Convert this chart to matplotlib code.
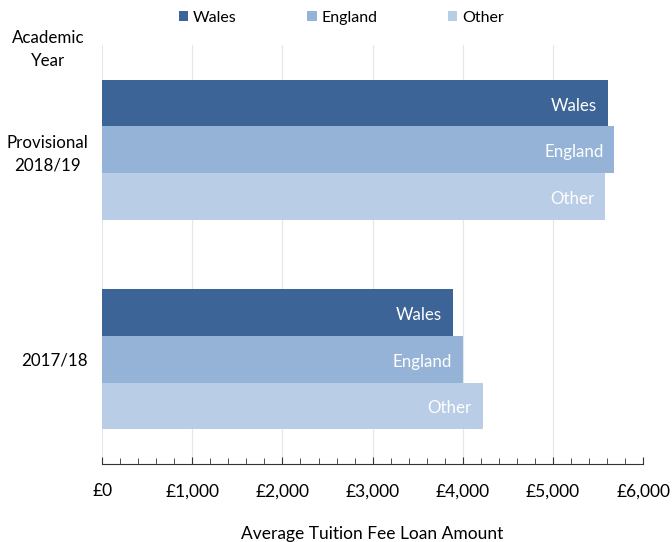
import numpy as np
import matplotlib.pyplot as plt
from matplotlib.ticker import MultipleLocator, FuncFormatter

plt.rcParams['font.family'] = ['Lato', 'DejaVu Sans']

years = ['2017/18', 'Provisional\n2018/19']
domiciles = ['Wales', 'England', 'Other']
wales = [3890, 5610]
england = [4000, 5680]
other = [4220, 5580]
colours = ['#3C6496', '#95B3D7', '#BACDE6']

fig = plt.figure(figsize=(6.72, 5.42), dpi=100)
ax = fig.add_axes([0.152, 0.144, 0.805, 0.773])

y = np.arange(len(years))
h = 0.223
offsets = [h, 0, -h]

for series, name, col, off in zip([wales, england, other], domiciles, colours, offsets):
    bars = ax.barh(y + off, series, height=h, color=col, label=name, zorder=2)
    for b in bars:
        ax.text(b.get_width() - 120, b.get_y() + b.get_height() / 2 - 0.012, name,
                ha='right', va='center', color='white', fontsize=12.2, zorder=3)

ax.set_xlim(0, 6000)
ax.set_ylim(-0.5, 1.5)
ax.set_yticks(y)
ax.set_yticklabels(years, fontsize=12.2, ha='right', multialignment='center',
                   linespacing=1.45)
ax.tick_params(axis='y', length=0, pad=10)

ax.xaxis.set_major_locator(MultipleLocator(1000))
ax.xaxis.set_minor_locator(MultipleLocator(200))
ax.xaxis.set_major_formatter(FuncFormatter(lambda v, p: f'£{v:,.0f}'))
ax.tick_params(axis='x', which='both', direction='in', labelsize=12.5, pad=14, color='#333333')
ax.tick_params(axis='x', which='major', length=5)
ax.tick_params(axis='x', which='minor', length=4)
ax.grid(axis='x', color='#E6E6E6', linewidth=0.8, zorder=0)

for s in ['top', 'right', 'left']:
    ax.spines[s].set_visible(False)
ax.spines['bottom'].set_color('#333333')

ax.set_xlabel('Average Tuition Fee Loan Amount', fontsize=12.5, labelpad=19)
fig.text(0.072, 0.908, 'Academic\nYear', ha='center', va='center', fontsize=12.2,
         linespacing=1.55)

ax.legend(loc='center', bbox_to_anchor=((0.508 - 0.152) / 0.805, (0.967 - 0.144) / 0.773),
          ncol=3, frameon=False, fontsize=11.5, handlelength=0.6, handleheight=0.6,
          handletextpad=0.3, columnspacing=4.4)

fig.savefig('out.png')
